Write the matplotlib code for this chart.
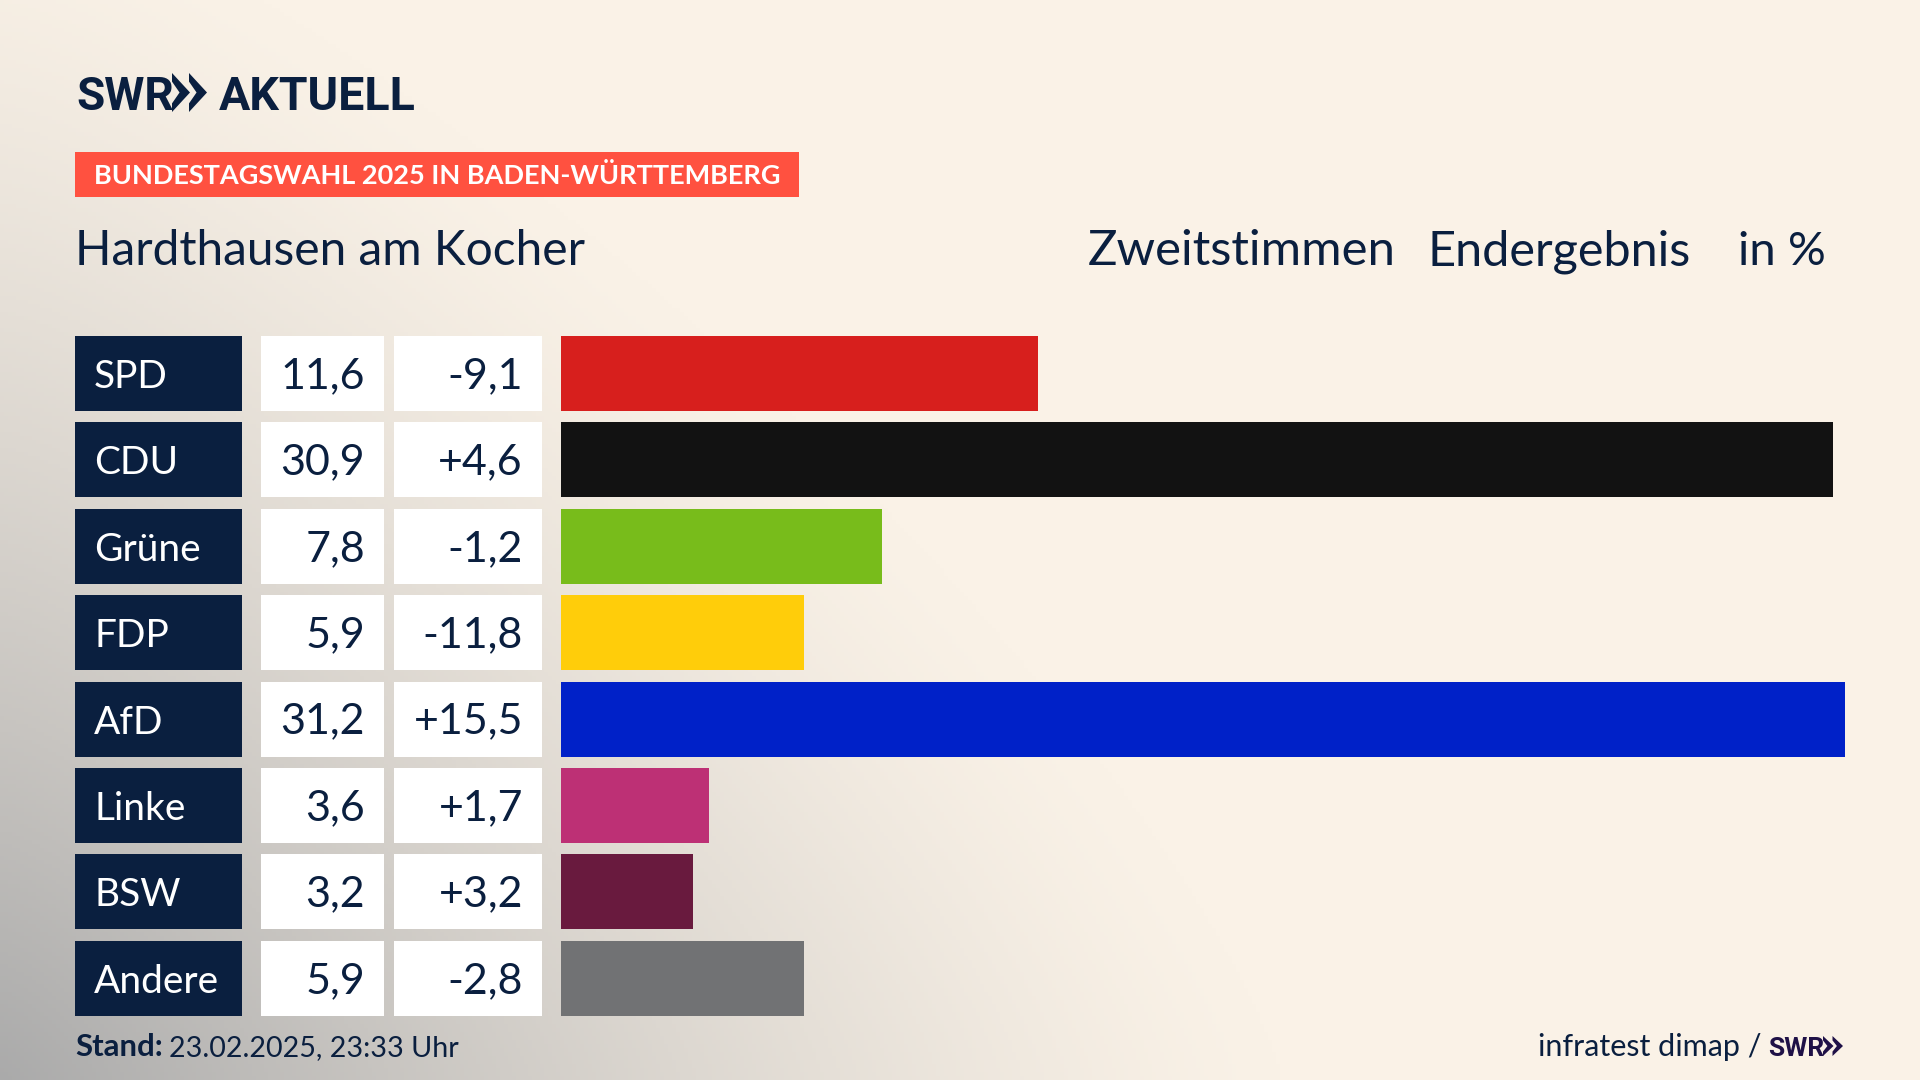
import numpy as np
import matplotlib
matplotlib.use('Agg')
import matplotlib.pyplot as plt
from matplotlib.patches import Rectangle, Polygon

# Values
parties = ['SPD', 'CDU', 'Grüne', 'FDP', 'AfD', 'Linke', 'BSW', 'Andere']
shares = [11.6, 30.9, 7.8, 5.9, 31.2, 3.6, 3.2, 5.9]
changes = ['-9,1', '+4,6', '-1,2', '-11,8', '+15,5', '+1,7', '+3,2', '-2,8']
bar_colors = ['#D71F1D', '#121212', '#78BC1B', '#FFCD0A', '#0021C8', '#BD3075', '#691A3E', '#717274']

NAVY = '#0A1F3F'
CREAM = np.array([0xFA, 0xF2, 0xE7]) / 255
GRAY = np.array([0xAA, 0xAA, 0xAA]) / 255
FONT = 'Lato'
LOGO_FONT = 'Roboto'

fig = plt.figure(figsize=(19.2, 10.8), dpi=100)

# Full figure axes in pixel coordinates for the background, cells and text
bg = fig.add_axes([0, 0, 1, 1])
bg.axis('off')

# Grey glow from the lower left corner
xx, yy = np.meshgrid(np.arange(0, 1920, 4), np.arange(0, 1080, 4))
d = ((xx / 1280) ** 1.3 + ((1080 - yy) / 1200) ** 1.3) ** (1 / 1.3)
t = (np.clip(1 - d, 0, 1) ** 1.3)[..., None]
bg.imshow(CREAM * (1 - t) + GRAY * t, extent=(0, 1920, 1080, 0), aspect='auto', zorder=0)
bg.set_xlim(0, 1920)
bg.set_ylim(1080, 0)


def chevrons(x, top, bottom, w, gap, color):
    mid = (top + bottom) / 2
    h = bottom - top
    for i in range(2):
        x0 = x + i * gap
        bg.add_patch(Polygon([(x0, top), (x0 + w, mid), (x0, bottom), (x0, bottom - 0.22 * h),
                              (x0 + 0.42 * w, mid), (x0, top + 0.22 * h)],
                             closed=True, fc=color, ec='none', zorder=3))


# Logo
bg.text(76, 110, 'SWR', family=LOGO_FONT, weight='bold', fontsize=33, color=NAVY, va='baseline')
chevrons(172, 73, 112, 18, 17, NAVY)
bg.text(219, 110, 'AKTUELL', family=LOGO_FONT, weight='bold', fontsize=33.5, color=NAVY, va='baseline')

# Banner and heading
bg.add_patch(Rectangle((75, 152), 724, 45, fc='#FF5140', ec='none', zorder=2))
bg.text(94, 184, 'BUNDESTAGSWAHL 2025 IN BADEN-WÜRTTEMBERG', family=FONT, weight='bold',
        fontsize=19.55, color='white', va='baseline', zorder=3)
bg.text(75, 265, 'Hardthausen am Kocher', family=FONT, fontsize=34.5, color=NAVY, va='baseline')
bg.text(1088, 265, 'Zweitstimmen', family=FONT, fontsize=35.4, color=NAVY, va='baseline')
bg.text(1428, 265, 'Endergebnis', family=FONT, fontsize=35, color=NAVY, va='baseline')
bg.text(1738, 265, 'in %', family=FONT, fontsize=34, color=NAVY, va='baseline')

# Table cells
row_top = 336
row_step = 86.4
row_h = 75
for i, party in enumerate(parties):
    y = row_top + i * row_step
    bg.add_patch(Rectangle((75, y), 167, row_h, fc=NAVY, ec='none', zorder=2))
    bg.add_patch(Rectangle((261, y), 123, row_h, fc='white', ec='none', zorder=2))
    bg.add_patch(Rectangle((394, y), 148, row_h, fc='white', ec='none', zorder=2))
    base = y + 52
    bg.text(94, base, party, family=FONT, fontsize=28, color='white', va='baseline', zorder=3)
    bg.text(365, base, f'{shares[i]:.1f}'.replace('.', ','), family=FONT, fontsize=31, color=NAVY,
            ha='right', va='baseline', zorder=3)
    bg.text(523, base, changes[i], family=FONT, fontsize=31, color=NAVY,
            ha='right', va='baseline', zorder=3)

# Footer
bg.text(75, 1056, 'Stand:', family=FONT, weight='bold', fontsize=22.4, color=NAVY, va='baseline')
bg.text(169, 1056, '23.02.2025, 23:33 Uhr', family=FONT, fontsize=20.6, color=NAVY, va='baseline')
bg.text(1762, 1056, 'infratest dimap /', family=FONT, fontsize=22, color=NAVY, ha='right', va='baseline')
bg.text(1768, 1056, 'SWR', family=LOGO_FONT, weight='bold', fontsize=19, color='#1F1147', va='baseline')
chevrons(1823, 1036, 1056, 10.5, 9.5, '#1F1147')

# Bars
left, right = 561, 1845
bottom_px = row_top + 7 * row_step + row_h
ax = fig.add_axes([left / 1920, 1 - bottom_px / 1080, (right - left) / 1920, (bottom_px - row_top) / 1080])
ax.patch.set_alpha(0)
pad = row_h / row_step / 2
ax.barh(range(len(parties)), shares, height=row_h / row_step, color=bar_colors)
ax.set_xlim(0, 31.2)
ax.set_ylim(len(parties) - 1 + pad, -pad)
ax.axis('off')

fig.savefig('out.png', dpi=100)
